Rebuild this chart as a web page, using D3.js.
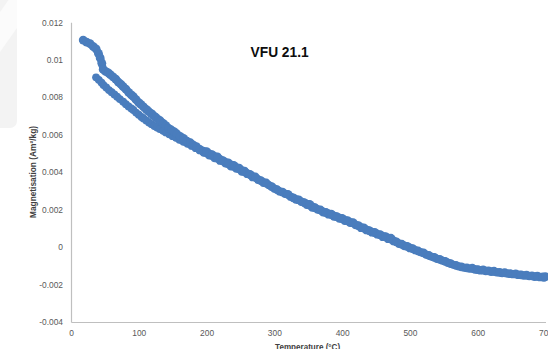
<!DOCTYPE html>
<html>
<head>
<meta charset="utf-8">
<script src="https://cdn.jsdelivr.net/npm/d3@7"></script>
<style>
  body { margin: 0; background: #fff; }
  svg { display: block; }
</style>
</head>
<body>
<div id="chart"></div>
<script>

// branch starting near 0.011 (upper at low temperature)
var tempA = [18, 23, 28, 33, 37, 40.5, 43, 45.5, 47.5, 51, 55, 58, 62, 66, 70, 74, 77, 81, 85, 89,
    92, 96, 100, 103, 107, 111, 114, 118, 121, 125, 129, 132, 136, 140, 144, 148, 152, 156, 161, 166,
    171, 176, 180, 185, 190, 195, 200, 208, 216, 224, 232, 240, 248, 256, 264, 272, 280, 288, 296, 304,
    312, 320, 328, 336, 344, 352, 360, 368, 376, 384, 392, 400, 408, 416, 424, 432, 440, 448, 456, 464,
    472, 480, 488, 496, 504, 512, 520, 528, 536, 544, 552, 560, 568, 576, 584, 592, 600, 608, 616, 624,
    632, 640, 648, 656, 664, 672, 680, 688, 696, 700];
var magA = [0.01105, 0.01094, 0.01086, 0.01070, 0.01058, 0.01034, 0.01010, 0.00981, 0.00948, 0.00938,
    0.00930, 0.00921, 0.00909, 0.00897, 0.00880, 0.00868, 0.00856, 0.00843, 0.00826, 0.00812,
    0.00803, 0.00787, 0.00771, 0.00762, 0.00749, 0.00735, 0.00726, 0.00714, 0.00705, 0.00693,
    0.00680, 0.00673, 0.00660, 0.00648, 0.00634, 0.00625, 0.00616, 0.00605, 0.00591, 0.00580,
    0.00566, 0.00557, 0.00546, 0.00536, 0.00522, 0.00512, 0.00510, 0.00493, 0.00481, 0.00462,
    0.00449, 0.00436, 0.00421, 0.00405, 0.00388, 0.00374, 0.00355, 0.00342, 0.00323, 0.00306,
    0.00293, 0.00281, 0.00263, 0.00252, 0.00237, 0.00228, 0.00210, 0.00198, 0.00185, 0.00176,
    0.00163, 0.00153, 0.00141, 0.00130, 0.00114, 0.00102, 0.00088, 0.00078, 0.00066, 0.00056,
    0.00047, 0.00028, 0.00015, 0.00004, -0.00008, -0.00021, -0.00031, -0.00045, -0.00055, -0.00066,
    -0.00076, -0.00088, -0.00098, -0.00106, -0.00111, -0.00113, -0.00120, -0.00122, -0.00127, -0.00129,
    -0.00135, -0.00137, -0.00142, -0.00143, -0.00148, -0.00150, -0.00154, -0.00155, -0.00159, -0.00158];

// branch starting near 0.009
var tempB = [37, 41, 45, 48, 52, 56, 60, 64, 68, 72, 77, 81, 85, 89, 92, 96, 100, 104, 107, 111,
    115, 119, 123, 127, 131, 136, 140, 145, 150, 155, 160, 166, 172, 178, 184, 190, 196, 204, 212, 220,
    228, 236, 244, 252, 260, 268, 276, 284, 292, 300, 308, 316, 324, 332, 340, 348, 356, 364, 372, 380,
    388, 396, 404, 412, 420, 428, 436, 444, 452, 460, 468, 476, 484, 492, 500, 508, 516, 524, 532, 540,
    548, 556, 564, 572, 580, 588, 596, 604, 612, 620, 628, 636, 644, 652, 660, 668, 676, 684, 692, 698];
var magB = [0.00906, 0.00893, 0.00878, 0.00865, 0.00852, 0.00838, 0.00827, 0.00815, 0.00803, 0.00790,
    0.00776, 0.00763, 0.00751, 0.00740, 0.00732, 0.00718, 0.00707, 0.00695, 0.00687, 0.00676,
    0.00665, 0.00656, 0.00646, 0.00638, 0.00630, 0.00621, 0.00612, 0.00602, 0.00592, 0.00583,
    0.00573, 0.00562, 0.00551, 0.00540, 0.00528, 0.00516, 0.00503, 0.00489, 0.00474, 0.00460,
    0.00446, 0.00430, 0.00418, 0.00402, 0.00389, 0.00372, 0.00358, 0.00342, 0.00330, 0.00311,
    0.00296, 0.00283, 0.00268, 0.00252, 0.00240, 0.00224, 0.00210, 0.00199, 0.00184, 0.00173,
    0.00162, 0.00151, 0.00139, 0.00128, 0.00116, 0.00101, 0.00089, 0.00077, 0.00066, 0.00053,
    0.00042, 0.00030, 0.00016, 0.00004, -0.00007, -0.00018, -0.00029, -0.00041, -0.00052, -0.00064,
    -0.00073, -0.00085, -0.00095, -0.00104, -0.00111, -0.00116, -0.00121, -0.00126, -0.00129, -0.00133,
    -0.00136, -0.00140, -0.00143, -0.00146, -0.00150, -0.00153, -0.00156, -0.00160, -0.00162, -0.00164];

var xTicks = [0, 100, 200, 300, 400, 500, 600, 700];
var yTicks = [-0.004, -0.002, 0, 0.002, 0.004, 0.006, 0.008, 0.01, 0.012];

var chartTitle = "VFU 21.1";
var xTitle = "Temperature (°C)";
var yTitle = "Magnetisation (Am²/kg)";

var width = 548, height = 349;
var blue = "#4a7dbd";

var svg = d3.select("#chart")
    .append("svg")
    .attr("width", width)
    .attr("height", height);

// faint watermark in the corner
svg.append("rect")
    .attr("x", -6).attr("y", -6)
    .attr("width", 23).attr("height", 134)
    .attr("rx", 7)
    .attr("fill", "#f3f3f3");
svg.append("polygon")
    .attr("points", "0,12 17,-12 17,28 0,52")
    .attr("fill", "#fbfbfb");

var x = d3.scaleLinear().domain([0, 700]).range([71, 545.5]);
var y = d3.scaleLinear().domain([-0.004, 0.012]).range([322, 22.3]);

function fmt(d) {
    if (d === 0) return "0";
    return String(+d.toFixed(3));
}

var xAxis = svg.append("g")
    .attr("transform", "translate(0," + y(-0.004) + ")")
    .call(d3.axisBottom(x).tickValues(xTicks).tickSize(0).tickSizeOuter(0).tickPadding(8).tickFormat(d3.format("d")));

var yAxis = svg.append("g")
    .attr("transform", "translate(" + x(0) + ",0)")
    .call(d3.axisLeft(y).tickValues(yTicks).tickSize(0).tickSizeOuter(0).tickPadding(8).tickFormat(fmt));

[xAxis, yAxis].forEach(function(g) {
    g.select(".domain").attr("stroke", "#bfbfbf").attr("stroke-width", 1.2);
    g.selectAll("text")
        .attr("fill", "#595959")
        .style("font-family", "'Liberation Sans', Arial, sans-serif")
        .style("font-size", "8.4px");
});

// series
var line = d3.line()
    .x(function(d) { return x(d[0]); })
    .y(function(d) { return y(d[1]); });

var seriesA = tempA.map(function(t, i) { return [t, magA[i]]; });
var seriesB = tempB.map(function(t, i) { return [t, magB[i]]; });

[[seriesB, 6.5, 3.9], [seriesA, 7.5, 4.4]].forEach(function(s) {
    svg.append("path")
        .datum(s[0])
        .attr("d", line)
        .attr("fill", "none")
        .attr("stroke", blue)
        .attr("stroke-width", s[1])
        .attr("stroke-linejoin", "round")
        .attr("stroke-linecap", "round");

    svg.append("g").selectAll("circle")
        .data(s[0])
        .enter()
        .append("circle")
        .attr("cx", function(d) { return x(d[0]); })
        .attr("cy", function(d) { return y(d[1]); })
        .attr("r", s[2])
        .attr("fill", blue);
});

// titles
svg.append("text")
    .attr("x", 279.6)
    .attr("y", 57.3)
    .attr("text-anchor", "middle")
    .attr("textLength", 58)
    .attr("lengthAdjust", "spacingAndGlyphs")
    .style("font-family", "'Liberation Sans', Arial, sans-serif")
    .style("font-weight", "bold")
    .style("font-size", "14.5px")
    .attr("fill", "#0d0d0d")
    .text(chartTitle);

svg.append("text")
    .attr("transform", "translate(36,172) rotate(-90)")
    .attr("text-anchor", "middle")
    .attr("textLength", 92)
    .attr("lengthAdjust", "spacingAndGlyphs")
    .style("font-family", "'Liberation Sans', Arial, sans-serif")
    .style("font-weight", "bold")
    .style("font-size", "8.2px")
    .attr("fill", "#404040")
    .text(yTitle);

svg.append("text")
    .attr("x", 307.6)
    .attr("y", 350)
    .attr("text-anchor", "middle")
    .attr("textLength", 65)
    .attr("lengthAdjust", "spacingAndGlyphs")
    .style("font-family", "'Liberation Sans', Arial, sans-serif")
    .style("font-weight", "bold")
    .style("font-size", "8.2px")
    .attr("fill", "#404040")
    .text(xTitle);

</script>
</body>
</html>
